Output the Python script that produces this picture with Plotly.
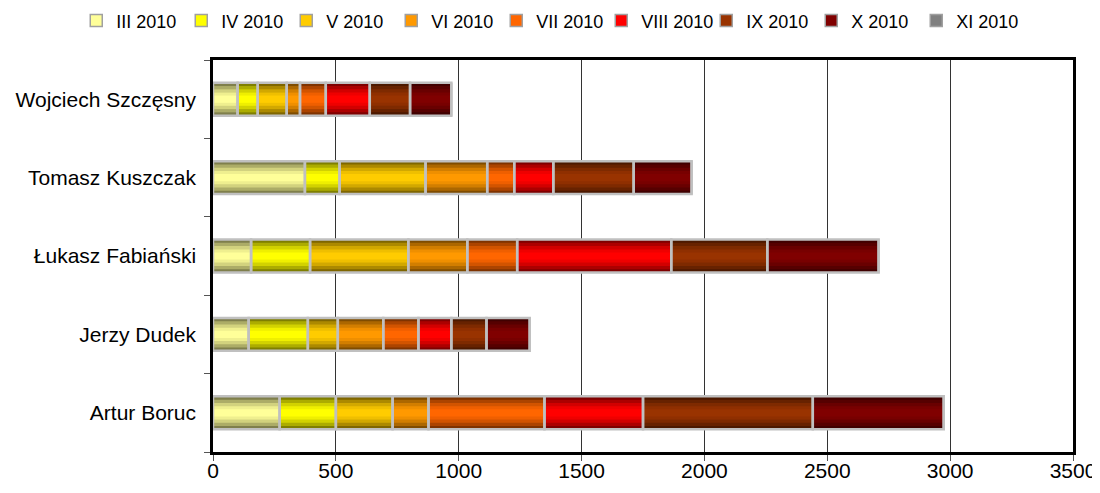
import numpy as np
import plotly.graph_objs as go


# ---------------------------
# Data
# ---------------------------

players = ["Artur Boruc", "Jerzy Dudek", "Łukasz Fabiański",
           "Tomasz Kuszczak", "Wojciech Szczęsny"]

months = ["III 2010", "IV 2010", "V 2010", "VI 2010", "VII 2010",
          "VIII 2010", "IX 2010", "X 2010", "XI 2010"]

# minutes per month, same order as players
m_iii = [271, 145, 155, 374, 100]
m_iv = [229, 241, 240, 141, 82]
m_v = [231, 122, 400, 350, 118]
m_vi = [146, 185, 240, 251, 54]
m_vii = [472, 143, 203, 110, 105]
m_viii = [401, 134, 627, 159, 179]
m_ix = [691, 143, 391, 327, 164]
m_x = [533, 176, 453, 236, 168]
m_xi = [0, 0, 0, 0, 0]

series = [m_iii, m_iv, m_v, m_vi, m_vii, m_viii, m_ix, m_x, m_xi]

colors = ["#FFFF99", "#FFFF00", "#FFCC00", "#FF9900", "#FF6600",
          "#FF0000", "#993300", "#800000", "#808080"]


# ---------------------------
# Helpers
# ---------------------------

def shade(hex_color, k):
    # k = 0 -> darker edge, k = 1 -> full colour
    h = hex_color.lstrip("#")
    rgb = [int(h[i:i + 2], 16) for i in (0, 2, 4)]
    f = 0.5 + 0.5 * k
    return "rgb({},{},{})".format(*[int(c * f) for c in rgb])


BAR_W = 0.42
layers = [(1.0, 0.0), (0.8, 0.35), (0.6, 0.65), (0.4, 0.88), (0.22, 1.0)]

fig = go.Figure()

vals = np.array(series, dtype=float)
bases = np.vstack([np.zeros(len(players)), np.cumsum(vals, axis=0)[:-1]])

# gradient layers (fake vertical gradient by overlaying narrower bars)
for i, (name, col) in enumerate(zip(months, colors)):
    for j, (wf, k) in enumerate(layers):
        fig.add_trace(go.Bar(
            y=players, x=vals[i], base=bases[i], orientation="h",
            width=BAR_W * wf, name=name,
            marker=dict(color=shade(col, k), line=dict(width=0)),
            showlegend=False, hoverinfo="skip" if j else None))

# outline layer + legend
for i, (name, col) in enumerate(zip(months, colors)):
    fig.add_trace(go.Bar(
        y=players, x=vals[i], base=bases[i], orientation="h",
        width=BAR_W, name=name, showlegend=False,
        marker=dict(color="rgba(0,0,0,0)",
                    line=dict(color="#C0C0C0", width=2.5))))
    fig.add_trace(go.Bar(
        y=[None], x=[None], orientation="h", name=name,
        marker=dict(color=col, line=dict(color="#A0A0A0", width=1.5))))

fig.update_layout(
    barmode="overlay",
    width=1100, height=493,
    paper_bgcolor="white", plot_bgcolor="white",
    font=dict(family="Liberation Sans, Arial, sans-serif",
              size=21, color="black"),
    margin=dict(l=205, r=35, t=52, b=49, autoexpand=False),
    legend=dict(orientation="h", xref="paper", x=-0.159,
                xanchor="left", yref="paper", y=1.10,
                yanchor="middle", itemwidth=30, entrywidth=60,
                font=dict(size=18), traceorder="normal"),
    xaxis=dict(range=[0, 3500], dtick=500, showgrid=True,
               gridcolor="#333333", gridwidth=1, zeroline=False,
               showline=True, linecolor="black", linewidth=2.5,
               mirror=True, ticks="outside", ticklen=6,
               tickcolor="#555555", automargin=False,
               ticklabeloverflow="allow", ticklabelstandoff=-8),
    yaxis=dict(categoryorder="array", categoryarray=players,
               showgrid=False, showline=True, linecolor="black",
               linewidth=2.5, mirror=True, ticks="outside",
               tickson="boundaries", ticklen=6, tickcolor="#555555",
               ticklabelstandoff=10, automargin=False),
)

fig.write_html("out.html")
